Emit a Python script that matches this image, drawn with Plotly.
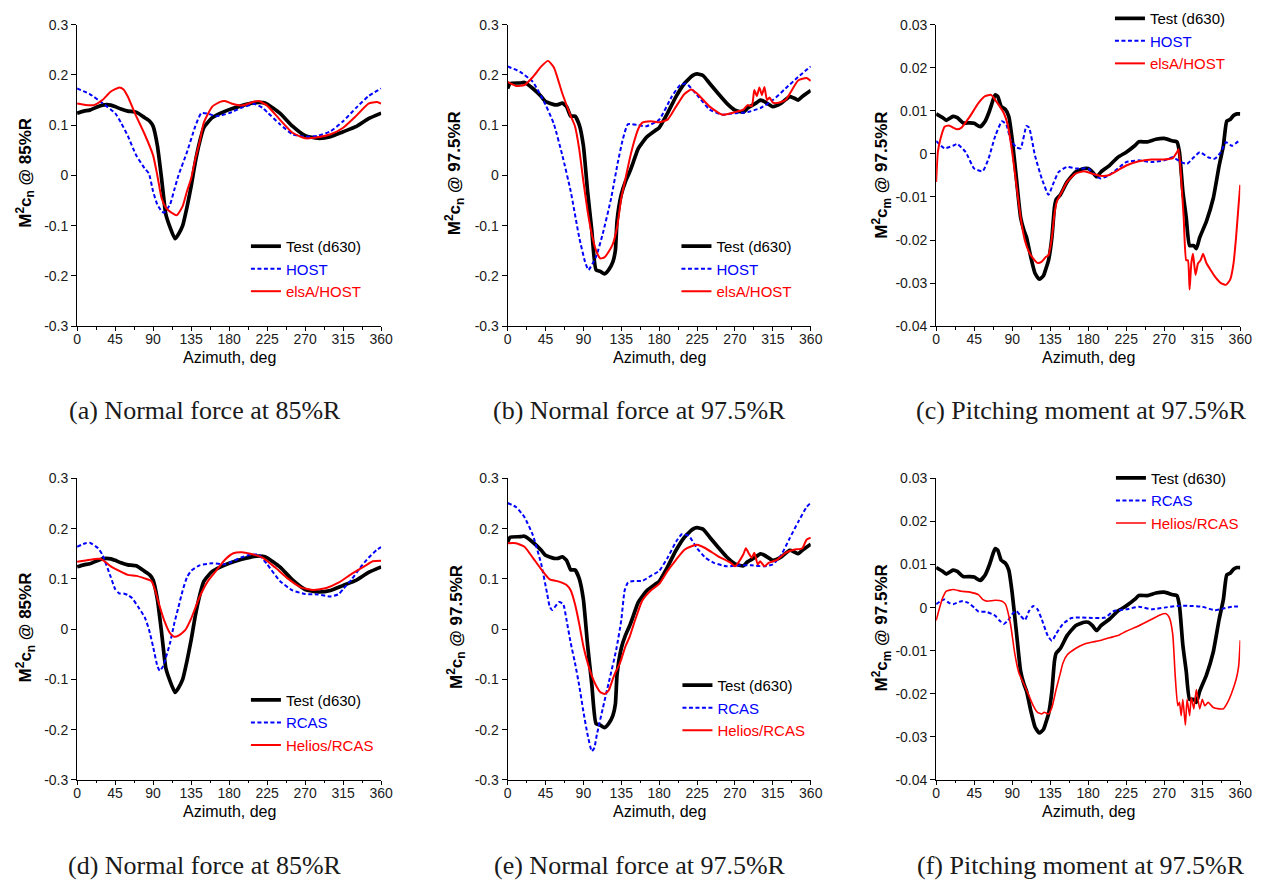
import plotly.graph_objects as go

# ---------------- data ----------------
# Test (d630), normal force at 85%R  (panels a, d)
AZ_TEST_85 = [0, 8, 15, 22, 30, 40, 45, 52, 60, 70, 80, 86, 90, 95, 100, 105, 110, 116, 120, 125, 130, 135, 140,
              145, 150, 160, 170, 180, 195, 210, 220, 225, 240, 255, 270, 285, 300, 315, 330, 345, 360]
CN_TEST_85 = [0.124, 0.128, 0.13, 0.135, 0.14, 0.14, 0.137, 0.132, 0.128, 0.126, 0.115, 0.108, 0.098, 0.06, -0.006,
              -0.077, -0.103, -0.126, -0.117, -0.1, -0.064, -0.022, 0.027, 0.066, 0.095, 0.115, 0.124, 0.131, 0.139,
              0.145, 0.145, 0.142, 0.124, 0.098, 0.079, 0.074, 0.077, 0.087, 0.097, 0.113, 0.124]

AZ_HOST_85 = [0, 15, 30, 45, 52, 60, 70, 80, 85, 90, 95, 100, 103, 110, 115, 120, 130, 140, 147, 155, 165, 180, 195,
              210, 220, 225, 240, 255, 270, 285, 300, 315, 330, 345, 360]
CN_HOST_85 = [0.173, 0.162, 0.144, 0.124, 0.105, 0.079, 0.04, 0.014, 0.004, -0.032, -0.058, -0.071, -0.074, -0.058,
              -0.029, 0.0, 0.046, 0.098, 0.124, 0.123, 0.118, 0.124, 0.135, 0.142, 0.134, 0.126, 0.102, 0.082, 0.077,
              0.079, 0.088, 0.108, 0.134, 0.158, 0.173]

AZ_ELSA_85 = [0, 10, 20, 30, 40, 50, 55, 60, 70, 80, 90, 95, 100, 105, 110, 118, 125, 130, 135, 140, 145, 150, 160,
              170, 175, 185, 195, 210, 215, 225, 240, 255, 270, 285, 300, 315, 330, 345, 355, 360]
CN_ELSA_85 = [0.143, 0.14, 0.14, 0.15, 0.167, 0.175, 0.171, 0.157, 0.118, 0.082, 0.04, 0.0, -0.045, -0.064, -0.072,
              -0.079, -0.061, -0.032, -0.006, 0.033, 0.066, 0.105, 0.137, 0.147, 0.148, 0.142, 0.139, 0.147, 0.148,
              0.139, 0.111, 0.085, 0.074, 0.076, 0.082, 0.095, 0.118, 0.143, 0.146, 0.143]

AZ_RCAS_85 = [0, 10, 15, 25, 30, 40, 45, 50, 55, 60, 65, 72, 80, 85, 90, 95, 98, 102, 105, 110, 115, 120, 125, 130,
              135, 145, 160, 175, 180, 195, 205, 215, 225, 240, 255, 270, 285, 300, 310, 315, 325, 335, 345, 355, 360]
CN_RCAS_85 = [0.164, 0.171, 0.172, 0.161, 0.148, 0.103, 0.08, 0.071, 0.071, 0.068, 0.062, 0.045, 0.024, 0.0, -0.035,
              -0.073, -0.083, -0.073, -0.057, -0.028, 0.011, 0.044, 0.077, 0.103, 0.116, 0.127, 0.131, 0.129, 0.132,
              0.143, 0.148, 0.148, 0.129, 0.096, 0.077, 0.07, 0.069, 0.065, 0.07, 0.08, 0.099, 0.122, 0.142, 0.158,
              0.163]

AZ_HELIOS_85 = [0, 15, 25, 30, 40, 50, 60, 70, 80, 88, 92, 97, 103, 110, 115, 120, 128, 135, 145, 155, 165, 175, 185,
                195, 205, 220, 235, 250, 265, 280, 295, 310, 325, 340, 350, 360]
CN_HELIOS_85 = [0.134, 0.138, 0.14, 0.138, 0.125, 0.116, 0.108, 0.106, 0.101, 0.096, 0.08, 0.05, 0.018, -0.008,
                -0.015, -0.013, -0.002, 0.021, 0.064, 0.096, 0.117, 0.138, 0.151, 0.153, 0.15, 0.142, 0.122, 0.1,
                0.083, 0.078, 0.082, 0.093, 0.11, 0.125, 0.135, 0.136]

# Test (d630), normal force at 97.5%R  (panels b, e)
AZ_TEST_975 = [0, 3, 15, 20, 30, 40, 45, 55, 60, 65, 70, 75, 80, 85, 90, 95, 100, 105, 110, 115, 120, 125, 128, 130,
               135, 140, 145, 150, 155, 165, 175, 180, 190, 200, 210, 220, 225, 232, 240, 250, 260, 270, 280, 285,
               295, 300, 305, 315, 325, 335, 340, 345, 350, 360]
CN_TEST_975 = [0.173, 0.183, 0.184, 0.185, 0.173, 0.157, 0.147, 0.141, 0.141, 0.144, 0.137, 0.118, 0.118, 0.101,
               0.059, -0.032, -0.11, -0.188, -0.191, -0.196, -0.188, -0.172, -0.149, -0.09, -0.038, -0.012, 0.007,
               0.03, 0.053, 0.076, 0.089, 0.095, 0.124, 0.157, 0.183, 0.199, 0.202, 0.199, 0.183, 0.163, 0.144, 0.13,
               0.126, 0.134, 0.144, 0.15, 0.147, 0.137, 0.144, 0.157, 0.154, 0.15, 0.157, 0.169]

AZ_HOST_975 = [0, 15, 30, 45, 55, 65, 75, 85, 92, 96, 105, 113, 123, 131, 137, 143, 155, 165, 180, 195, 205, 212,
               225, 240, 255, 270, 285, 300, 315, 330, 345, 360]
CN_HOST_975 = [0.217, 0.206, 0.186, 0.141, 0.102, 0.04, -0.032, -0.123, -0.172, -0.188, -0.162, -0.116, -0.045,
               0.027, 0.073, 0.102, 0.1, 0.098, 0.111, 0.157, 0.18, 0.183, 0.16, 0.131, 0.121, 0.124, 0.126, 0.134,
               0.15, 0.173, 0.196, 0.217]

AZ_ELSA_975 = [0, 10, 20, 30, 40, 48, 55, 65, 75, 80, 85, 90, 95, 100, 105, 110, 115, 120, 125, 130, 135, 140, 145,
               150, 155, 160, 170, 180, 190, 200, 210, 218, 225, 240, 255, 270, 280, 285, 290, 293, 296, 299, 302,
               305, 308, 311, 315, 320, 330, 345, 355, 360]
CN_ELSA_975 = [0.186, 0.178, 0.18, 0.196, 0.217, 0.228, 0.215, 0.163, 0.118, 0.098, 0.053, -0.012, -0.071, -0.117,
               -0.149, -0.165, -0.163, -0.152, -0.136, -0.103, -0.045, -0.006, 0.033, 0.066, 0.092, 0.105, 0.108,
               0.106, 0.111, 0.137, 0.162, 0.171, 0.163, 0.137, 0.121, 0.126, 0.131, 0.14, 0.138, 0.17, 0.158,
               0.175, 0.16, 0.176, 0.15, 0.155, 0.145, 0.144, 0.15, 0.189, 0.194, 0.188]

AZ_RCAS_975 = [0, 10, 20, 30, 40, 47, 50, 53, 61, 66, 70, 75, 80, 85, 90, 95, 100, 103, 106, 113, 121, 129, 135,
               139, 143, 150, 160, 170, 180, 190, 200, 207, 215, 225, 235, 245, 260, 275, 290, 305, 315, 325, 335,
               345, 355, 360]
CN_RCAS_975 = [0.251, 0.243, 0.223, 0.187, 0.129, 0.07, 0.045, 0.038, 0.054, 0.05, 0.018, -0.028, -0.067, -0.112,
               -0.164, -0.21, -0.243, -0.236, -0.21, -0.158, -0.1, -0.041, 0.018, 0.077, 0.093, 0.096, 0.096, 0.106,
               0.116, 0.142, 0.174, 0.189, 0.186, 0.161, 0.142, 0.132, 0.125, 0.127, 0.127, 0.125, 0.129, 0.148,
               0.181, 0.213, 0.243, 0.251]

AZ_HELIOS_975 = [0, 10, 20, 30, 40, 50, 60, 70, 75, 80, 85, 90, 95, 100, 105, 110, 115, 120, 125, 128, 132, 135,
                 140, 145, 150, 160, 170, 180, 190, 200, 210, 220, 225, 235, 250, 265, 270, 275, 280, 283, 286, 290,
                 293, 297, 300, 305, 310, 320, 330, 340, 350, 355, 360]
CN_HELIOS_975 = [0.171, 0.171, 0.164, 0.142, 0.119, 0.099, 0.095, 0.088, 0.077, 0.05, 0.011, -0.034, -0.067, -0.093,
                 -0.112, -0.125, -0.129, -0.122, -0.099, -0.086, -0.073, -0.06, -0.034, -0.015, 0.011, 0.057, 0.077,
                 0.09, 0.116, 0.138, 0.158, 0.166, 0.168, 0.161, 0.145, 0.132, 0.125, 0.135, 0.149, 0.161, 0.152,
                 0.142, 0.152, 0.129, 0.135, 0.125, 0.132, 0.138, 0.152, 0.158, 0.161, 0.178, 0.182]

# Test (d630), pitching moment at 97.5%R  (panels c, f)
AZ_TEST_CM = [0, 8, 12, 20, 25, 32, 40, 45, 52, 58, 63, 68, 70, 73, 77, 82, 86, 90, 95, 100, 104, 107, 112, 117,
              122, 127, 130, 133, 137, 140, 142, 147, 155, 165, 175, 180, 185, 190, 195, 205, 215, 225, 235, 240,
              250, 260, 270, 280, 285, 288, 292, 296, 300, 305, 308, 312, 320, 328, 335, 340, 344, 348, 352, 356, 360]
CM_TEST = [0.0093, 0.0084, 0.0078, 0.0087, 0.0084, 0.0072, 0.0072, 0.0071, 0.0063, 0.0076, 0.0099, 0.0129, 0.0137,
           0.0133, 0.011, 0.0103, 0.0087, 0.0034, -0.0057, -0.0148, -0.0178, -0.0194, -0.0239, -0.0277, -0.0291,
           -0.0283, -0.0266, -0.0247, -0.0194, -0.0125, -0.0106, -0.0095, -0.0065, -0.0042, -0.0034, -0.0034,
           -0.0042, -0.0053, -0.0042, -0.0027, -0.0008, 0.0004, 0.0019, 0.0028, 0.0028, 0.0034, 0.0036, 0.003,
           0.0028, 0.0004, -0.0087, -0.0148, -0.0213, -0.0213, -0.022, -0.0194, -0.0156, -0.0103, -0.0027, 0.0019,
           0.0076, 0.008, 0.0089, 0.0093, 0.0093]

AZ_HOST_CM = [0, 10, 20, 25, 35, 45, 55, 62, 70, 78, 83, 88, 95, 100, 107, 110, 117, 125, 133, 138, 145, 155, 165,
              180, 190, 195, 205, 215, 225, 240, 255, 270, 280, 290, 297, 305, 312, 322, 330, 337, 343, 350, 360]
CM_HOST = [0.003, 0.0013, 0.0019, 0.0023, 0.0004, -0.0034, -0.004, -0.0011, 0.0042, 0.0076, 0.0068, 0.0034, 0.0015,
           0.0013, 0.0065, 0.0061, -0.0004, -0.0057, -0.0095, -0.0072, -0.0042, -0.003, -0.0034, -0.0034, -0.0053,
           -0.0057, -0.0049, -0.0034, -0.0019, -0.0015, -0.0019, -0.0015, -0.0008, -0.0019, -0.0023, -0.0008,
           0.0004, -0.0008, -0.0011, 0.0004, 0.0027, 0.0019, 0.0033]

AZ_ELSA_CM = [0, 2, 5, 10, 15, 20, 25, 30, 40, 50, 58, 65, 70, 80, 85, 90, 95, 100, 105, 110, 115, 120, 125, 130,
              133, 137, 140, 143, 148, 155, 165, 175, 185, 195, 205, 215, 225, 240, 255, 270, 280, 285, 287, 290,
              293, 296, 298, 300, 302, 304, 307, 310, 313, 316, 320, 325, 330, 337, 343, 348, 352, 355, 358, 360]
CM_ELSA = [-0.0065, 0.0004, 0.0034, 0.0063, 0.0066, 0.0061, 0.0057, 0.0061, 0.0087, 0.0118, 0.0134, 0.0137, 0.0125,
           0.0095, 0.0065, 0.0004, -0.0072, -0.0148, -0.0201, -0.0228, -0.0243, -0.0253, -0.025, -0.0239, -0.0235,
           -0.0194, -0.014, -0.011, -0.0091, -0.0065, -0.0046, -0.004, -0.0046, -0.0051, -0.0049, -0.0038, -0.0027,
           -0.0017, -0.0013, -0.0013, -0.001, 0.0004, 0.0011, -0.0057, -0.0148, -0.0247, -0.0247, -0.0315, -0.0254,
           -0.0232, -0.0281, -0.0254, -0.0247, -0.0232, -0.0254, -0.027, -0.0285, -0.03, -0.0304, -0.0292, -0.0254,
           -0.0194, -0.0118, -0.0072]

AZ_RCAS_CM = [0, 5, 10, 15, 20, 30, 38, 45, 50, 60, 70, 75, 80, 85, 90, 95, 100, 105, 110, 115, 120, 125, 132, 137,
              142, 150, 160, 170, 185, 200, 210, 225, 240, 255, 270, 285, 300, 315, 330, 340, 350, 360]
CM_RCAS = [0.0008, 0.0015, 0.0019, 0.0011, 0.0008, 0.0015, 0.0011, 0.0, -0.0009, -0.001, -0.0019, -0.003, -0.0038,
           -0.003, -0.0015, -0.0008, -0.0019, -0.0029, -0.0008, 0.0004, -0.0004, -0.0027, -0.0065, -0.0077, -0.0061,
           -0.0038, -0.0024, -0.0023, -0.0024, -0.0023, -0.0008, -0.0004, 0.0002, -0.0004, 0.0, 0.0004, 0.0004,
           0.0002, -0.0006, -0.0002, 0.0002, 0.0003]

AZ_HELIOS_CM = [0, 3, 7, 12, 20, 30, 40, 50, 55, 60, 70, 78, 82, 88, 93, 98, 104, 110, 115, 120, 125, 128, 133, 137,
                142, 147, 150, 155, 165, 175, 185, 195, 205, 215, 225, 240, 255, 265, 272, 276, 280, 283, 286, 288,
                290, 292, 295, 297, 300, 302, 305, 308, 312, 315, 318, 322, 328, 335, 340, 345, 350, 355, 358, 360]
CM_HELIOS = [-0.003, -0.0008, 0.0019, 0.0038, 0.0042, 0.0038, 0.0036, 0.003, 0.0019, 0.0015, 0.0017, 0.0015, 0.0008,
             -0.0038, -0.0106, -0.0152, -0.0178, -0.0205, -0.0228, -0.0243, -0.0247, -0.0243, -0.0247, -0.0232,
             -0.019, -0.0152, -0.0129, -0.011, -0.0095, -0.0085, -0.008, -0.0076, -0.007, -0.0065, -0.0055, -0.0042,
             -0.0027, -0.0017, -0.0014, -0.0023, -0.0061, -0.0159, -0.0228, -0.022, -0.0251, -0.0213, -0.0273,
             -0.0213, -0.0251, -0.0209, -0.0235, -0.019, -0.0235, -0.0213, -0.0228, -0.022, -0.0232, -0.0235,
             -0.0235, -0.022, -0.0197, -0.0167, -0.0137, -0.0076]

# tick labels
X_TICKS = [0, 45, 90, 135, 180, 225, 270, 315, 360]
CN_TICKS = [-0.3, -0.2, -0.1, 0, 0.1, 0.2, 0.3]
CN_LABELS = ["-0.3", "-0.2", "-0.1", "0", "0.1", "0.2", "0.3"]
CM_TICKS = [-0.04, -0.03, -0.02, -0.01, 0, 0.01, 0.02, 0.03]
CM_LABELS = ["-0.04", "-0.03", "-0.02", "-0.01", "0", "0.01", "0.02", "0.03"]

# ---------------- layout helpers ----------------
W, H = 1275, 892


def fx(p):
    return p / W


def fy(p):
    return 1 - p / H


SANS = "Arial, Liberation Sans, sans-serif"
SERIF = "Times New Roman, Liberation Serif, serif"

STYLE = {
    "test": dict(color="#000000", width=3.7),
    "model": dict(color="#0000ff", width=2, dash="4px,2.5px"),
    "cfd": dict(color="#ff0000", width=2),
    "cfd_thin": dict(color="#ff0000", width=1.6),
}
TEXTCOL = {"test": "#000000", "model": "#0000ff", "cfd": "#ff0000", "cfd_thin": "#ff0000"}

COLS = {"L": (74, 382), "M": (510, 817), "R": (944, 1252)}
ROWS = {"T": (17, 324), "B": (479, 786)}

panels = [
    dict(col="L", row="T", kind="cn", ytitle="M<sup>2</sup>c<sub>n</sub> @ 85%R", ytpos=(22, 168),
         caption="(a) Normal force at 85%R", cappos=(204, 410), leg=(245, 226),
         series=[("Test (d630)", AZ_TEST_85, CN_TEST_85, "test"),
                 ("HOST", AZ_HOST_85, CN_HOST_85, "model"),
                 ("elsA/HOST", AZ_ELSA_85, CN_ELSA_85, "cfd")]),
    dict(col="M", row="T", kind="cn", ytitle="M<sup>2</sup>c<sub>n</sub> @ 97.5%R", ytpos=(457, 168),
         caption="(b) Normal force at 97.5%R", cappos=(644, 410), leg=(681, 226),
         series=[("Test (d630)", AZ_TEST_975, CN_TEST_975, "test"),
                 ("HOST", AZ_HOST_975, CN_HOST_975, "model"),
                 ("elsA/HOST", AZ_ELSA_975, CN_ELSA_975, "cfd")]),
    dict(col="R", row="T", kind="cm", ytitle="M<sup>2</sup>c<sub>m</sub> @ 97.5%R", ytpos=(889, 170),
         caption="(c) Pitching moment at 97.5%R", cappos=(1091, 410), leg=(1120, -6),
         series=[("Test (d630)", AZ_TEST_CM, CM_TEST, "test"),
                 ("HOST", AZ_HOST_CM, CM_HOST, "model"),
                 ("elsA/HOST", AZ_ELSA_CM, CM_ELSA, "cfd")]),
    dict(col="L", row="B", kind="cn", ytitle="M<sup>2</sup>c<sub>n</sub> @ 85%R", ytpos=(22, 631),
         caption="(d) Normal force at 85%R", cappos=(204, 873), leg=(245, 688),
         series=[("Test (d630)", AZ_TEST_85, CN_TEST_85, "test"),
                 ("RCAS", AZ_RCAS_85, CN_RCAS_85, "model"),
                 ("Helios/RCAS", AZ_HELIOS_85, CN_HELIOS_85, "cfd")]),
    dict(col="M", row="B", kind="cn", ytitle="M<sup>2</sup>c<sub>n</sub> @ 97.5%R", ytpos=(458, 630),
         caption="(e) Normal force at 97.5%R", cappos=(644, 873), leg=(682, 673),
         series=[("Test (d630)", AZ_TEST_975, CN_TEST_975, "test"),
                 ("RCAS", AZ_RCAS_975, CN_RCAS_975, "model"),
                 ("Helios/RCAS", AZ_HELIOS_975, CN_HELIOS_975, "cfd")]),
    dict(col="R", row="B", kind="cm", ytitle="M<sup>2</sup>c<sub>m</sub> @ 97.5%R", ytpos=(889, 631),
         caption="(f) Pitching moment at 97.5%R", cappos=(1091, 873), leg=(1121, 462),
         series=[("Test (d630)", AZ_TEST_CM, CM_TEST, "test"),
                 ("RCAS", AZ_RCAS_CM, CM_RCAS, "model"),
                 ("Helios/RCAS", AZ_HELIOS_CM, CM_HELIOS, "cfd_thin")]),
]

fig = go.Figure()
annotations = []
layout = dict(
    width=W, height=H, margin=dict(l=0, r=0, t=0, b=0),
    paper_bgcolor="white", plot_bgcolor="white", showlegend=True,
    font=dict(family=SANS, size=14, color="#000000"),
)

for i, p in enumerate(panels, start=1):
    sx = "" if i == 1 else str(i)
    legname = "legend" if i == 1 else f"legend{i}"
    for name, xs, ys, sty in p["series"]:
        fig.add_trace(go.Scatter(
            x=xs, y=ys, mode="lines",
            name=f'<span style="color:{TEXTCOL[sty]}">{name}</span>',
            line=dict(shape="spline", smoothing=0.5, **STYLE[sty]),
            xaxis=f"x{sx}", yaxis=f"y{sx}", legend=legname,
            hoverinfo="skip",
        ))
    x0, x1 = COLS[p["col"]]
    y0, y1 = ROWS[p["row"]]
    if p["kind"] == "cn":
        yr, tv, tt = [-0.3, 0.3], CN_TICKS, CN_LABELS
    else:
        yr, tv, tt = [-0.04, 0.03], CM_TICKS, CM_LABELS
    layout[f"xaxis{sx}"] = dict(
        domain=[fx(x0), fx(x1)], range=[0, 360], anchor=f"y{sx}",
        tickmode="array", tickvals=X_TICKS, ticktext=[str(v) for v in X_TICKS],
        ticks="outside", ticklen=4, tickwidth=1, tickcolor="black",
        ticklabelstandoff=-4,
        minor=dict(ticks="outside", ticklen=2.5, tickwidth=1, tickcolor="black",
                   tickmode="array", tickvals=[22.5 + 45 * k for k in range(8)]),
        showline=True, linecolor="black", linewidth=1, mirror=False,
        showgrid=False, zeroline=False,
        tickfont=dict(family=SANS, size=14, color="#1a1a1a"),
    )
    layout[f"yaxis{sx}"] = dict(
        domain=[fy(y1), fy(y0)], range=yr, anchor=f"x{sx}",
        tickmode="array", tickvals=tv, ticktext=tt,
        ticks="outside", ticklen=5, tickwidth=1, tickcolor="black",
        showline=True, linecolor="black", linewidth=1, mirror=False,
        showgrid=False, zeroline=False,
        tickfont=dict(family=SANS, size=14, color="#1a1a1a"),
    )
    lx, ly = p["leg"]
    layout[legname] = dict(
        x=fx(lx), y=fy(ly), xanchor="left", yanchor="top",
        bgcolor="rgba(0,0,0,0)", borderwidth=0, tracegroupgap=0, itemwidth=30,
        font=dict(family=SANS, size=15, color="#000000"),
    )
    # axis titles and caption
    annotations.append(dict(
        text="Azimuth, deg", x=fx((x0 + x1) / 2), y=fy(y1 + 32), xref="paper", yref="paper",
        xanchor="center", yanchor="middle", showarrow=False,
        font=dict(family=SANS, size=16, color="#000000")))
    tx, ty = p["ytpos"]
    annotations.append(dict(
        text=f"<b>{p['ytitle']}</b>", x=fx(tx), y=fy(ty), xref="paper", yref="paper",
        xanchor="center", yanchor="middle", showarrow=False, textangle=-90,
        font=dict(family=SANS, size=17, color="#000000")))
    cx, cy = p["cappos"]
    annotations.append(dict(
        text=p["caption"], x=fx(cx), y=fy(cy), xref="paper", yref="paper",
        xanchor="center", yanchor="middle", showarrow=False,
        font=dict(family=SERIF, size=26, color="#1a1a1a")))

layout["annotations"] = annotations
fig.update_layout(**layout)
fig.write_html("out.html")
